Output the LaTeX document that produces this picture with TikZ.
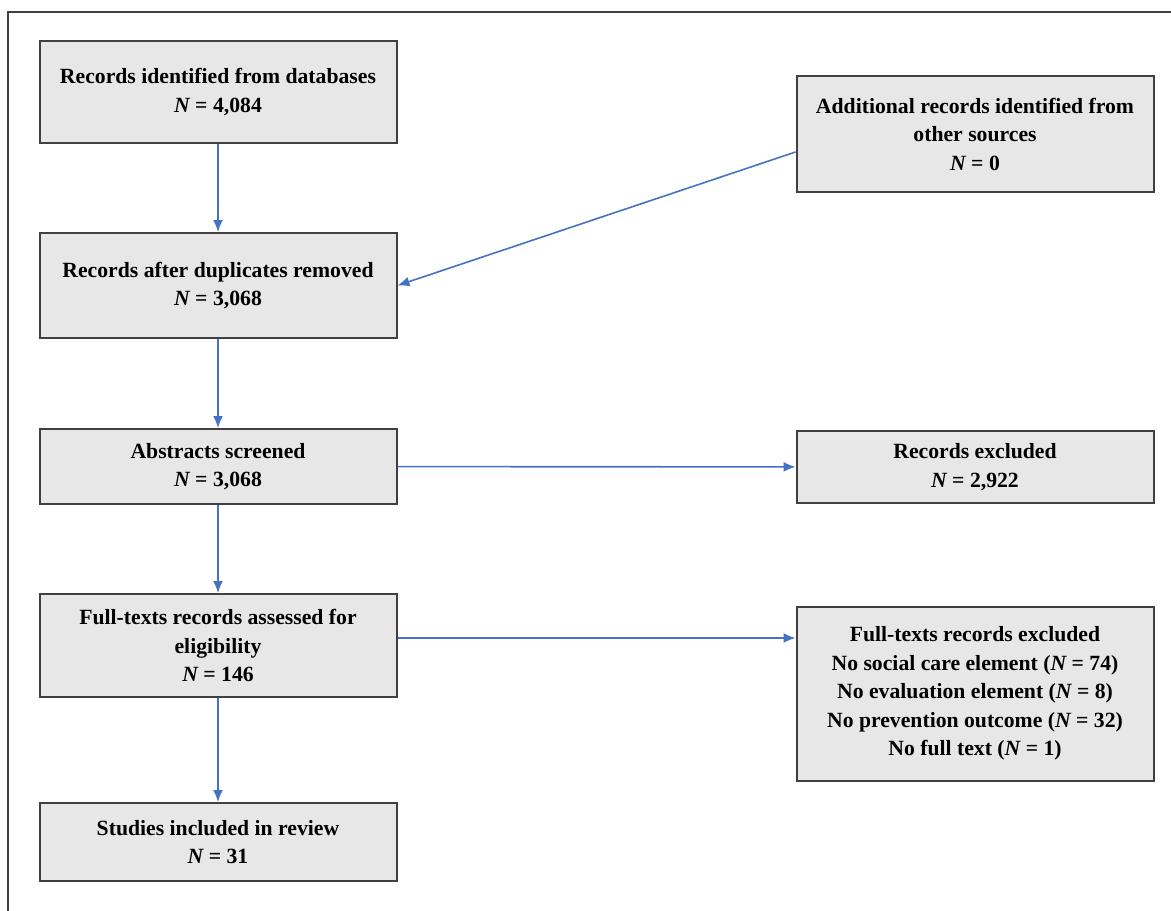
\documentclass[tikz,border=0pt]{standalone}
\usepackage{fontspec}
\setmainfont{Liberation Serif}
\usetikzlibrary{arrows.meta}
\definecolor{lgray}{RGB}{231, 231, 231}
\definecolor{dgray}{RGB}{64, 64, 64}
\definecolor{lblue}{RGB}{68, 114, 196}
\tikzset{
	stage/.style = {rectangle, draw = dgray, line width = 2pt, fill = lgray, minimum width = 357pt, inner sep = 0pt, align = center, font = \fontsize{21.7}{28.5}\selectfont\bfseries},
	flow/.style = {draw = lblue, line width = 1.6pt, -{Latex[length = 12pt, width = 10pt]}}
}
\newcommand{\nn}{{\itshape N}}
\begin{document}
\begin{tikzpicture}[x = 1pt, y = -1pt]
			\useasboundingbox (0,0) rectangle (1171,911);
			\draw [line width = 1.5pt, dgray] (8,911) -- (8,12) -- (1171,12);
			\node (rec) at (218,92) [stage, minimum height = 102pt] {Records identified from databases\\ \nn{} = 4,084};
			\node (add) at (975,134) [stage, minimum height = 116pt] {Additional records identified from\\ other sources\\ \nn{} = 0};
			\node (dup) at (218,285.5) [stage, minimum height = 105pt] {Records after duplicates removed\\ \nn{} = 3,068};
			\node (abs) at (218,466.5) [stage, minimum height = 75pt] {Abstracts screened\\ \nn{} = 3,068};
			\node (excl) at (975,467) [stage, minimum height = 72pt] {Records excluded\\ \nn{} = 2,922};
			\node (full) at (218,645.5) [stage, minimum height = 103pt] {Full-texts records assessed for\\ eligibility\\ \nn{} = 146};
			\node (fullex) at (975,693.5) [stage, minimum height = 174pt] {Full-texts records excluded\\ No social care element (\nn{} = 74)\\ No evaluation element (\nn{} = 8)\\ No prevention outcome (\nn{} = 32)\\ No full text (\nn{} = 1)};
			\node (incl) at (218,842) [stage, minimum height = 78pt] {Studies included in review\\ \nn{} = 31};
			\coordinate (addout) at ([yshift = -18pt]add.west);
			\coordinate (fullout) at ([yshift = 7.5pt]full.east);
			\draw (rec) edge [flow] (dup);
			\draw (addout) edge [flow] (dup.east);
			\draw (dup) edge [flow] (abs);
			\draw (abs) edge [flow] (excl);
			\draw (abs) edge [flow] (full);
			\draw (fullout) edge [flow] (fullex.west |- fullout);
			\draw (full) edge [flow] (incl);
			\end{tikzpicture}
\end{document}
